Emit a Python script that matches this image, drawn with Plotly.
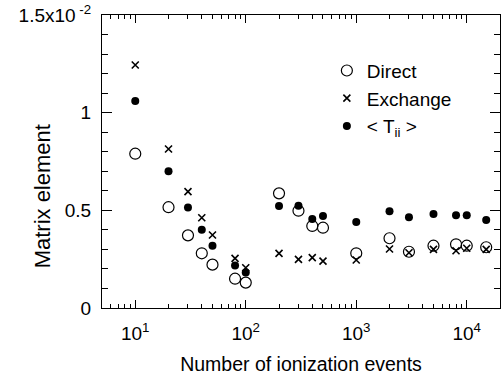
import plotly.graph_objects as go
import numpy as np

n_events = [10, 20, 30, 40, 50, 80, 100, 200, 300, 400, 500, 1000, 2000, 3000, 5000, 8000, 10000, 15000]
direct = [0.79, 0.516, 0.372, 0.28, 0.222, 0.15, 0.13, 0.587, 0.498, 0.42, 0.411, 0.28, 0.357, 0.288, 0.319, 0.326, 0.319, 0.311]
exchange = [1.244, 0.814, 0.596, 0.462, 0.374, 0.254, 0.206, 0.28, 0.249, 0.258, 0.24, 0.246, 0.302, 0.283, 0.30, 0.293, 0.306, 0.30]
tii = [1.06, 0.70, 0.514, 0.40, 0.319, 0.218, 0.182, 0.522, 0.524, 0.456, 0.471, 0.44, 0.495, 0.464, 0.481, 0.475, 0.475, 0.45]

y_tickvals = [0, 0.5, 1, 1.5]
y_ticktext = ["0", "0.5", "1", "1.5x10<sup> -2</sup>"]
x_tickvals = [10, 100, 1000, 10000]
x_ticktext = ["10<sup>1</sup>", "10<sup>2</sup>", "10<sup>3</sup>", "10<sup>4</sup>"]

font = "Liberation Sans, Arial, sans-serif"
x_range = [np.log10(5), np.log10(20000)]
y_range = [0, 1.5]

fig = go.Figure()
fig.add_trace(go.Scatter(x=n_events, y=direct, mode="markers", name="Direct",
                         marker=dict(symbol="circle-open", size=11, color="black", line=dict(width=1.2, color="black"))))
fig.add_trace(go.Scatter(x=n_events, y=exchange, mode="markers", name="Exchange",
                         marker=dict(symbol="x-thin-open", size=7, color="black", line=dict(width=1.6, color="black"))))
fig.add_trace(go.Scatter(x=n_events, y=tii, mode="markers", name="&lt; T<sub>ii</sub> &gt;",
                         marker=dict(symbol="circle", size=8, color="black")))
# invisible trace to carry the mirrored (top/right) axes
fig.add_trace(go.Scatter(x=n_events, y=tii, mode="markers", xaxis="x2", yaxis="y2",
                         marker=dict(opacity=0), showlegend=False, hoverinfo="skip"))

tick_common = dict(ticks="inside", tickwidth=1, tickcolor="black", showgrid=False, zeroline=False,
                   showline=True, linecolor="black", linewidth=1, automargin=False)

fig.update_layout(
    width=501, height=379,
    margin=dict(l=102, r=1, t=15, b=71, autoexpand=False),
    paper_bgcolor="white", plot_bgcolor="white",
    font=dict(family=font, size=19, color="black"),
    showlegend=True,
    legend=dict(x=0.565, y=0.875, xanchor="left", yanchor="top", bgcolor="rgba(0,0,0,0)",
                font=dict(size=19), itemsizing="trace", tracegroupgap=0),
    xaxis=dict(type="log", range=x_range,
               tickmode="array", tickvals=x_tickvals, ticktext=x_ticktext, ticklen=8,
               minor=dict(dtick="D1", ticks="inside", ticklen=4, tickcolor="black"),
               ticklabelstandoff=8,
               title=dict(text="Number of ionization events", standoff=14, font=dict(size=19.5)),
               tickfont=dict(size=19), **tick_common),
    xaxis2=dict(type="log", range=x_range, overlaying="x", side="top", anchor="y",
                tickmode="array", tickvals=x_tickvals, ticklen=8, showticklabels=False,
                minor=dict(dtick="D1", ticks="inside", ticklen=4, tickcolor="black"),
                **tick_common),
    yaxis=dict(range=y_range, tickmode="array", tickvals=y_tickvals, ticktext=y_ticktext,
               ticklen=10,
               minor=dict(dtick=0.1, ticks="inside", ticklen=6, tickcolor="black"),
               ticklabelstandoff=6,
               tickfont=dict(size=19), **tick_common),
    yaxis2=dict(range=y_range, overlaying="y", side="right", anchor="x",
                tickmode="array", tickvals=y_tickvals, ticklen=10, showticklabels=False,
                minor=dict(dtick=0.1, ticks="inside", ticklen=6, tickcolor="black"),
                **tick_common),
    annotations=[dict(text="Matrix element", xref="paper", yref="paper",
                      x=-0.150, y=0.382, xanchor="center", yanchor="middle",
                      textangle=-90, showarrow=False, font=dict(size=22))],
)

fig.write_html("out.html")
